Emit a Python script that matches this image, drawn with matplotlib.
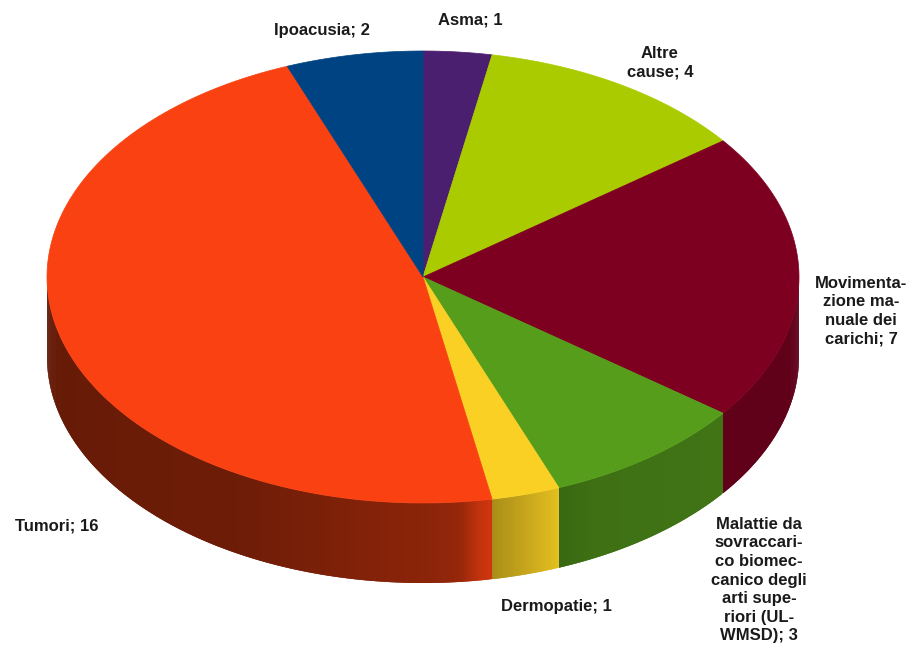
import numpy as np
import matplotlib.pyplot as plt
from matplotlib.patches import Polygon
from matplotlib.colors import to_rgb

labels = ["Asma; 1", "Altre\ncause; 4", "Movimenta-\nzione ma-\nnuale dei\ncarichi; 7",
          "Malattie da\nsovraccari-\nco biomec-\ncanico degli\narti supe-\nriori (UL-\nWMSD); 3",
          "Dermopatie; 1", "Tumori; 16", "Ipoacusia; 2"]
values = [1, 4, 7, 3, 1, 16, 2]
colors = ["#4b1f6f", "#aacb00", "#7e0021", "#579d1c", "#f9d023", "#f94111", "#004383"]

# label anchor points (pixels)
label_pos = [(470, 20), (660, 63), (861, 311), (759, 580), (556, 607), (57, 526), (322, 30)]

cx, cy, rx, ry, depth = 423, 277, 376, 226, 80

fig = plt.figure(figsize=(9.09, 6.52), dpi=100)
ax = fig.add_axes([0, 0, 1, 1])
ax.set_xlim(0, 909)
ax.set_ylim(652, 0)
ax.axis("off")


def pt(t):
    r = np.radians(t)
    return cx + rx * np.sin(r), cy - ry * np.cos(r)


# brightness of the side wall, measured from each slice's start angle
side_profile = {
    2: ([0, 8, 37], [0.62, 0.74, 0.76]),
    3: ([0, 25, 32], [0.74, 0.72, 0.66]),
    4: ([0, 3, 10.6], [0.92, 0.85, 0.68]),
    5: ([0, 2, 5, 10, 40, 101], [0.84, 0.78, 0.6, 0.56, 0.44, 0.4]),
}

bounds = np.concatenate([[0], np.cumsum(values)]) / sum(values) * 360

# side walls (front half only)
for i, c in enumerate(colors):
    a0, a1 = max(bounds[i], 90), min(bounds[i + 1], 270)
    if a1 <= a0:
        continue
    base = np.array(to_rgb(c))
    px, py = side_profile[i]
    ts = np.linspace(a0, a1, int((a1 - a0) * 3) + 2)
    for t0, t1 in zip(ts[:-1], ts[1:]):
        t1e = min(t1 + 0.4, a1)
        x0, y0 = pt(t0)
        x1, y1 = pt(t1e)
        col = np.clip(base * np.interp((t0 + t1) / 2 - bounds[i], px, py), 0, 1)
        ax.add_patch(Polygon([(x0, y0), (x1, y1), (x1, y1 + depth), (x0, y0 + depth)],
                             closed=True, facecolor=col, edgecolor="none"))

# top surface
for i, c in enumerate(colors):
    ts = np.linspace(bounds[i], bounds[i + 1], 200)
    xs, ys = pt(ts)
    verts = [(cx, cy)] + list(zip(xs, ys))
    ax.add_patch(Polygon(verts, closed=True, facecolor=c, edgecolor=c, lw=0.5))

for lab, (x, y) in zip(labels, label_pos):
    ax.text(x, y, lab, ha="center", va="center", fontsize=12, fontweight="bold",
            family="Liberation Sans", color="#1a1a1a", linespacing=1.3)

fig.savefig("out.png", dpi=100, facecolor="white")
